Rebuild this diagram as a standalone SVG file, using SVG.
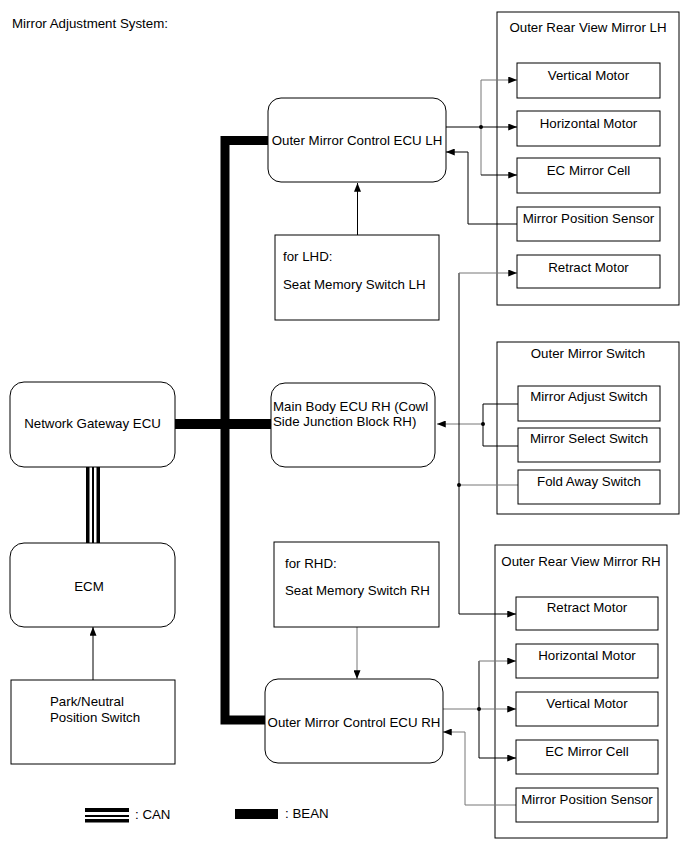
<svg xmlns="http://www.w3.org/2000/svg" width="691" height="854" viewBox="0 0 691 854">
<style>
text{font-family:"Liberation Sans",Arial,sans-serif;font-size:13.3px;fill:#000}
.m{text-anchor:middle}
.box{fill:#fff;stroke:#000;stroke-width:1}
.frame{fill:none;stroke:#000;stroke-width:1}
.ln{fill:none;stroke:#000;stroke-width:1}
.gr{fill:none;stroke:#777;stroke-width:1}
.bean{fill:none;stroke:#000;stroke-width:9;stroke-linejoin:miter}
</style>
<defs>
<marker id="ah" viewBox="0 0 10 8" refX="10" refY="4" markerWidth="10" markerHeight="7" markerUnits="userSpaceOnUse" orient="auto">
<path d="M0,0 L10,4 L0,8 Z" fill="#000"/>
</marker>
</defs>
<rect x="0" y="0" width="691" height="854" fill="#fff"/>
<text x="12" y="28">Mirror Adjustment System:</text>

<g id="mirror-lh-frame"><rect class="frame" x="497" y="12" width="182" height="293"/></g>
<g id="switch-frame"><rect class="frame" x="497" y="342" width="182" height="172"/></g>
<g id="mirror-rh-frame"><rect class="frame" x="495" y="545" width="172" height="293"/></g>

<g id="connectors">
<path class="bean" d="M268,140.5 H225 V720 H265"/>
<path class="bean" d="M175,424 H271" style="stroke-width:10"/>
<rect x="86" y="467" width="3.5" height="76" fill="#000"/>
<rect x="92" y="467" width="2" height="76" fill="#000"/>
<rect x="96.5" y="467" width="3.5" height="76" fill="#000"/>
<path class="ln" d="M357.5,235 V183" marker-end="url(#ah)"/>
<path class="gr" d="M357,627 V679" marker-end="url(#ah)"/>
<path class="ln" d="M93,680 V627" marker-end="url(#ah)"/>
<path class="ln" d="M446,127 H517" marker-end="url(#ah)"/>
<path class="gr" d="M481,80 V175"/>
<path class="gr" d="M481,80 H517" marker-end="url(#ah)"/>
<path class="ln" d="M481,175 H517" marker-end="url(#ah)"/>
<circle cx="481" cy="127" r="2" fill="#000"/>
<path class="ln" d="M517,224 H468 V152 H446" marker-end="url(#ah)"/>
<path class="ln" d="M518,404 H483 V446 H518"/>
<path class="gr" d="M483,424 H437" marker-end="url(#ah)"/>
<circle cx="483" cy="424" r="2" fill="#000"/>
<path class="gr" d="M518,485 H459"/>
<circle cx="459" cy="485" r="2" fill="#000"/>
<path class="ln" d="M459,273 V614"/>
<path class="gr" d="M459,273 H517" marker-end="url(#ah)"/>
<path class="ln" d="M459,614 H516" marker-end="url(#ah)"/>
<path class="gr" d="M443,709 H516" marker-end="url(#ah)"/>
<path class="ln" d="M479,661 V758"/>
<path class="gr" d="M479,661 H516" marker-end="url(#ah)"/>
<path class="ln" d="M479,758 H516" marker-end="url(#ah)"/>
<circle cx="479" cy="709" r="2" fill="#000"/>
<path class="gr" d="M516,805 H465 V732 H443" marker-end="url(#ah)"/>
</g>

<g id="ecu-lh">
<rect class="box" x="268" y="98" width="178" height="84" rx="13"/>
<text class="m" x="357" y="145">Outer Mirror Control ECU LH</text>
</g>
<g id="seat-lh">
<rect class="box" x="275" y="235" width="164" height="85"/>
<text x="283" y="261">for LHD:</text>
<text x="283" y="289">Seat Memory Switch LH</text>
</g>
<g id="gateway">
<rect class="box" x="10" y="382" width="165" height="85" rx="14"/>
<text class="m" x="92.5" y="428">Network Gateway ECU</text>
</g>
<g id="ecm">
<rect class="box" x="10" y="543" width="165" height="84" rx="14"/>
<text class="m" x="89" y="591">ECM</text>
</g>
<g id="park">
<rect class="box" x="11" y="680" width="164" height="84"/>
<text x="50" y="706">Park/Neutral</text>
<text x="50" y="722">Position Switch</text>
</g>
<g id="main-body">
<rect class="box" x="271" y="383" width="164" height="84" rx="14"/>
<text x="273" y="411">Main Body ECU RH (Cowl</text>
<text x="273" y="426">Side Junction Block RH)</text>
</g>
<g id="seat-rh">
<rect class="box" x="274" y="542" width="165" height="85"/>
<text x="285" y="568">for RHD:</text>
<text x="285" y="595">Seat Memory Switch RH</text>
</g>
<g id="ecu-rh">
<rect class="box" x="265" y="679" width="178" height="84" rx="13"/>
<text class="m" x="354" y="727">Outer Mirror Control ECU RH</text>
</g>

<g id="mirror-lh">
<text class="m" x="588" y="32">Outer Rear View Mirror LH</text>
<g id="lh-vertical"><rect class="box" x="517" y="63" width="143" height="35"/><text class="m" x="588.5" y="80">Vertical Motor</text></g>
<g id="lh-horizontal"><rect class="box" x="517" y="111" width="143" height="35"/><text class="m" x="588.5" y="128">Horizontal Motor</text></g>
<g id="lh-ec"><rect class="box" x="517" y="158" width="143" height="35"/><text class="m" x="588.5" y="175">EC Mirror Cell</text></g>
<g id="lh-sensor"><rect class="box" x="517" y="207" width="143" height="34"/><text class="m" x="588.5" y="223">Mirror Position Sensor</text></g>
<g id="lh-retract"><rect class="box" x="517" y="255" width="143" height="33"/><text class="m" x="588.5" y="272">Retract Motor</text></g>
</g>

<g id="switch">
<text class="m" x="588" y="358">Outer Mirror Switch</text>
<g id="sw-adjust"><rect class="box" x="518" y="386" width="142" height="35"/><text class="m" x="589" y="401">Mirror Adjust Switch</text></g>
<g id="sw-select"><rect class="box" x="518" y="428" width="142" height="34"/><text class="m" x="589" y="443">Mirror Select Switch</text></g>
<g id="sw-fold"><rect class="box" x="518" y="470" width="142" height="34"/><text class="m" x="589" y="486">Fold Away Switch</text></g>
</g>

<g id="mirror-rh">
<text class="m" x="581" y="566">Outer Rear View Mirror RH</text>
<g id="rh-retract"><rect class="box" x="516" y="597" width="142" height="33"/><text class="m" x="587" y="612">Retract Motor</text></g>
<g id="rh-horizontal"><rect class="box" x="516" y="644" width="142" height="34"/><text class="m" x="587" y="660">Horizontal Motor</text></g>
<g id="rh-vertical"><rect class="box" x="516" y="692" width="142" height="34"/><text class="m" x="587" y="708">Vertical Motor</text></g>
<g id="rh-ec"><rect class="box" x="516" y="740" width="142" height="34"/><text class="m" x="587" y="756">EC Mirror Cell</text></g>
<g id="rh-sensor"><rect class="box" x="516" y="788" width="142" height="34"/><text class="m" x="587" y="804">Mirror Position Sensor</text></g>
</g>

<g id="legend">
<rect x="85" y="808" width="44" height="4" fill="#000"/>
<rect x="85" y="815" width="44" height="2" fill="#000"/>
<rect x="85" y="819" width="44" height="3.5" fill="#000"/>
<text x="135" y="819">: CAN</text>
<rect x="235" y="809" width="43" height="10" fill="#000"/>
<text x="285" y="818">: BEAN</text>
</g>
</svg>
